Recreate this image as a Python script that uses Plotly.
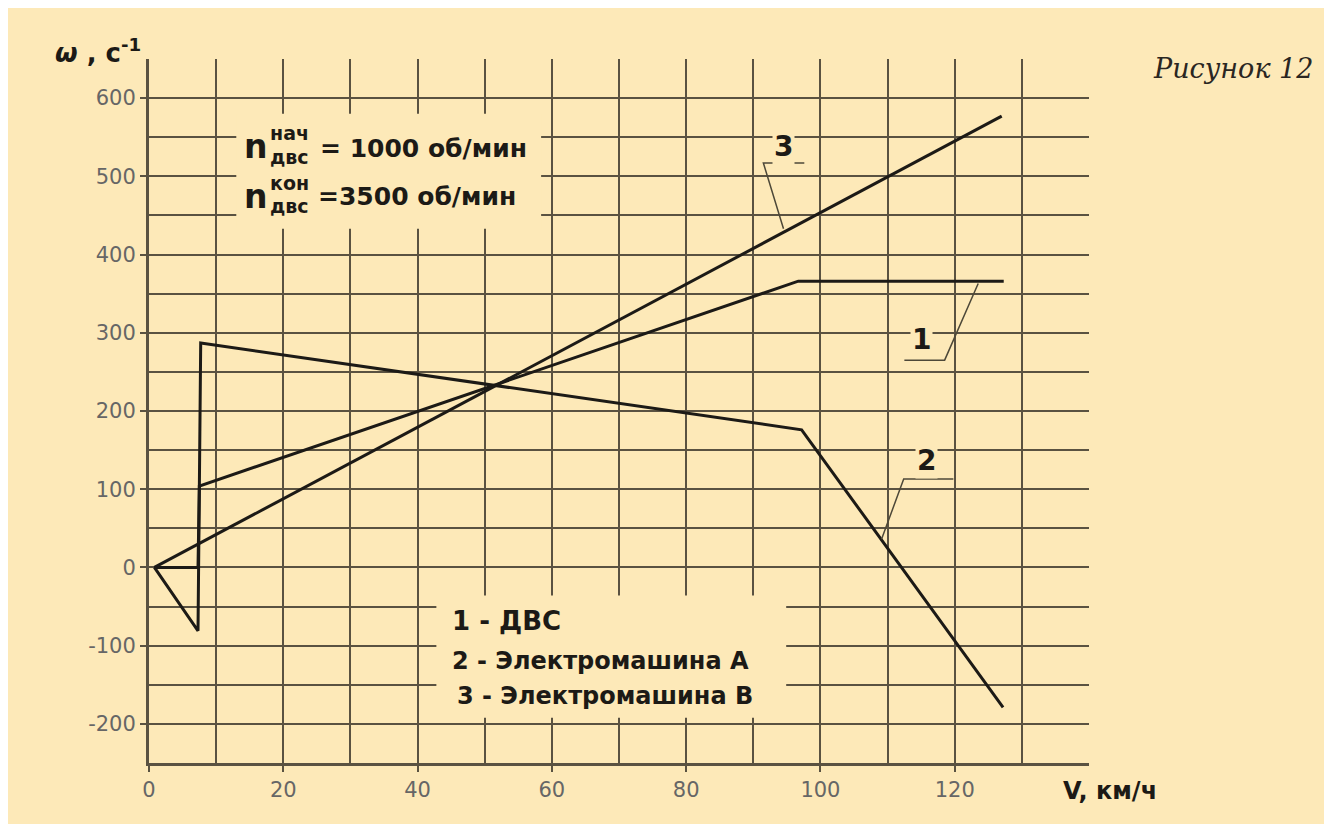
import plotly.graph_objects as go

BG = "#FDE9B8"
GRID = "#5A5241"
INK = "#1C1A16"
TICK_COL = "#666666"

# ---- data ----
v_dvs = [0.8, 7.3, 7.5, 96.7, 127.3]        # 1 - ДВС
w_dvs = [0, 0, 104, 366, 366]
v_ema = [0.8, 7.3, 7.7, 97.2, 127.2]        # 2 - Электромашина A
w_ema = [0, -81, 287, 176, -179]
v_emb = [0.8, 127.0]                        # 3 - Электромашина B
w_emb = [0, 577]

x_ticks = [0, 20, 40, 60, 80, 100, 120]
x_minor = [10, 30, 50, 70, 90, 110, 130]
y_ticks = [-200, -100, 0, 100, 200, 300, 400, 500, 600]
y_minor = [-150, -50, 50, 150, 250, 350, 450, 550]

legend_lines = ["1 - ДВС", "2 - Электромашина А", "3 - Электромашина В"]

fig = go.Figure()
for vx, wy in [(v_dvs, w_dvs), (v_ema, w_ema), (v_emb, w_emb)]:
    fig.add_trace(go.Scatter(x=vx, y=wy, mode="lines",
                             line=dict(color=INK, width=3),
                             showlegend=False, hoverinfo="skip"))

shapes = []
# boxes that hide the grid behind the text blocks
for x0, x1, y0, y1 in [(13.0, 58.4, 433, 580), (42.8, 94.9, -192, -36)]:
    shapes.append(dict(type="rect", xref="x", yref="y", x0=x0, x1=x1, y0=y0, y1=y1,
                       fillcolor=BG, line=dict(width=0), layer="between"))
# leader lines for the curve numbers
for pts in [[(94.5, 433), (91.5, 517), (97.6, 517)],
            [(123.5, 363), (118.5, 265), (112.5, 265)],
            [(109.1, 36), (112.4, 113), (119.8, 113)]]:
    path = "M " + " L ".join(f"{a},{b}" for a, b in pts)
    shapes.append(dict(type="path", xref="x", yref="y", path=path,
                       line=dict(color="#4d4838", width=1.5), layer="above"))

ann = []
FB = "DejaVu Sans"
# top-left block
ann.append(dict(x=15.9, y=538, text="<b>n</b>", font=dict(family=FB, size=33, color=INK)))
ann.append(dict(x=20.9, y=556, text="<b>нач</b>", font=dict(family=FB, size=19, color=INK)))
ann.append(dict(x=20.9, y=525, text="<b>двс</b>", font=dict(family=FB, size=19, color=INK)))
ann.append(dict(x=25.2, y=536, xanchor="left", text="<b>= 1000 об/мин</b>",
                font=dict(family=FB, size=25, color=INK)))
ann.append(dict(x=15.9, y=474, text="<b>n</b>", font=dict(family=FB, size=33, color=INK)))
ann.append(dict(x=20.9, y=491, text="<b>кон</b>", font=dict(family=FB, size=19, color=INK)))
ann.append(dict(x=20.9, y=462, text="<b>двс</b>", font=dict(family=FB, size=19, color=INK)))
ann.append(dict(x=24.9, y=474, xanchor="left", text="<b>=3500 об/мин</b>",
                font=dict(family=FB, size=25, color=INK)))
# legend block
for (lx, ly), txt, sz in zip([(44.8, -68), (44.8, -119), (45.5, -164)], legend_lines, [26, 24, 24]):
    ann.append(dict(x=lx, y=ly, xanchor="left", text=f"<b>{txt}</b>",
                    font=dict(family=FB, size=sz, color=INK)))
# curve numbers
for (lx, ly), txt in zip([(94.5, 538), (115.0, 292), (115.8, 137)], ["3", "1", "2"]):
    ann.append(dict(x=lx, y=ly, text=f"<b>{txt}</b>", bgcolor=BG, borderpad=1,
                    font=dict(family=FB, size=28, color=INK)))
for a in ann:
    a.setdefault("xref", "x")
    a.setdefault("yref", "y")
    a["showarrow"] = False

# axis titles & caption (positions relative to the plot area)
ann.append(dict(xref="paper", yref="paper", x=(142 - 148) / 940, y=(762 - 50) / 704,
                xanchor="right", yanchor="middle", showarrow=False,
                text="<b><i>ω</i> , c<sup>-1</sup></b>",
                font=dict(family=FB, size=26, color=INK)))
ann.append(dict(xref="paper", yref="paper", x=(1060 - 148) / 940, y=(762 - 790) / 704,
                xanchor="left", yanchor="middle", showarrow=False,
                text="<b>V, км/ч</b>", font=dict(family=FB, size=24, color=INK)))
ann.append(dict(xref="paper", yref="paper", x=(1232 - 148) / 940, y=(762 - 68) / 704,
                xanchor="center", yanchor="middle", showarrow=False,
                text="<i>Рисунок 12</i>", font=dict(family="DejaVu Serif", size=27, color="#2a2622")))

fig.update_layout(
    width=1332, height=824, autosize=False,
    margin=dict(l=141, r=251, t=51, b=69),
    paper_bgcolor=BG, plot_bgcolor=BG,
    shapes=shapes, annotations=ann,
    xaxis=dict(range=[0, 140], tickvals=x_ticks, ticktext=[str(v) for v in x_ticks],
               showgrid=True, gridcolor=GRID, gridwidth=2, zeroline=False,
               minor=dict(tickvals=x_minor, showgrid=True, gridcolor=GRID, gridwidth=2, ticks=""),
               showline=True, linecolor=GRID, linewidth=3,
               ticks="outside", ticklen=6, tickwidth=2, tickcolor=GRID,
               tickfont=dict(family=FB, size=21, color=TICK_COL)),
    yaxis=dict(range=[-250, 650], tickvals=y_ticks, ticktext=[str(v) for v in y_ticks],
               showgrid=True, gridcolor=GRID, gridwidth=2, zeroline=False,
               minor=dict(tickvals=y_minor, showgrid=True, gridcolor=GRID, gridwidth=2, ticks=""),
               showline=True, linecolor=GRID, linewidth=3,
               ticks="outside", ticklen=6, tickwidth=2, tickcolor=GRID,
               tickfont=dict(family=FB, size=21, color=TICK_COL)),
)

fig.write_html("out.html")
